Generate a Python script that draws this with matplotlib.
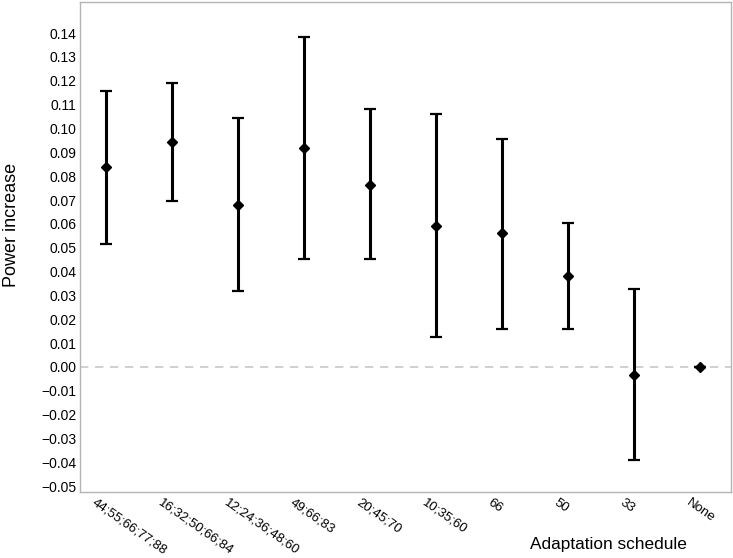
import matplotlib
matplotlib.use("Agg")
import matplotlib.pyplot as plt
import matplotlib.transforms as mtransforms
import numpy as np

schedules = ["44;55;66;77;88", "16;32;50;66;84", "12;24;36;48;60", "49;66;83",
             "20;45;70", "10;35;60", "66", "50", "33", "None"]
estimate = [0.0837, 0.0942, 0.0678, 0.0918, 0.0764, 0.0592, 0.0562, 0.0381, -0.0032, 0.0]
lower = [0.0517, 0.0697, 0.0317, 0.0451, 0.0451, 0.0126, 0.0161, 0.0159, -0.0390, 0.0]
upper = [0.1158, 0.1189, 0.1042, 0.1383, 0.1080, 0.1059, 0.0957, 0.0605, 0.0327, 0.0]
yticks = [round(v, 2) for v in np.arange(-0.05, 0.1401, 0.01)]

plt.rcParams['font.family'] = ['Liberation Sans', 'DejaVu Sans']

fig = plt.figure(figsize=(7.33, 5.58), dpi=100)
ax = fig.add_axes([80/733, 1 - 492/558, 651/733, 490/558])

x = np.arange(1, len(schedules) + 1)
est = np.array(estimate)
err = np.vstack([est - np.array(lower), np.array(upper) - est])

ax.axhline(0, color='#c8c8c8', linestyle=(0, (5, 4)), linewidth=1.2, zorder=1)
ax.errorbar(x, est, yerr=err, fmt='D', color='black', markersize=5,
            elinewidth=2.2, capsize=4, capthick=1.6, zorder=3)

ax.set_xlim(0.606, 10.47)
ax.set_ylim(-0.0524, 0.153)
ax.set_yticks(yticks)
ax.set_yticklabels([f"{v:.2f}".replace('-', '\u2212') for v in yticks], fontsize=10)
ax.set_xticks(x)
ax.set_xticklabels(schedules, rotation=-35, ha='left', va='top',
                   rotation_mode='anchor', fontsize=9.5)
ax.tick_params(axis='both', length=0)
ax.tick_params(axis='y', pad=2.5)
ax.tick_params(axis='x', pad=3.5)
offset = mtransforms.ScaledTranslation(-9/100, 0, fig.dpi_scale_trans)
for lbl in ax.get_xticklabels():
    lbl.set_transform(lbl.get_transform() + offset)
for s in ax.spines.values():
    s.set_color('#b4b4b4')
    s.set_linewidth(1.0)

fig.text(12/733, 1 - 225/558, "Power increase", fontsize=13, rotation=90,
         ha='center', va='center')
fig.text(608/733, 1 - 545/558, "Adaptation schedule", fontsize=12.4,
         ha='center', va='center')

fig.savefig("out.png", dpi=100)
